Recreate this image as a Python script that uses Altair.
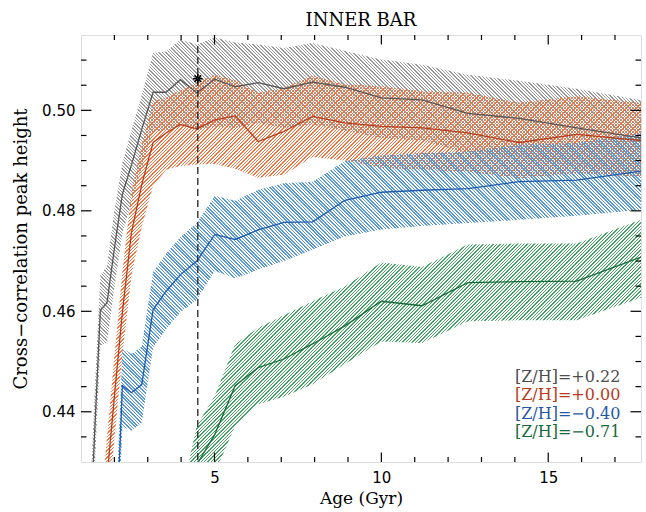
import altair as alt
import pandas as pd

# ---------------- data ----------------
AGES = [1.0, 1.12, 1.26, 1.41, 1.58, 1.78, 2.0, 2.24, 2.51, 2.82, 3.16, 3.55, 3.98,
        4.47, 5.01, 5.62, 6.31, 7.08, 7.94, 8.91, 10.0, 11.22, 12.59, 14.13, 15.85, 17.78]

GRAY_MID = [None, 0.392, 0.413, 0.436, 0.4602, 0.4617, 0.4725, 0.4833, 0.4891, 0.4962, 0.5036, 0.5036, 0.5061,
            0.5035, 0.5062, 0.5047, 0.5055, 0.5043, 0.5056, 0.5046, 0.5025, 0.5021, 0.4994, 0.4984, 0.4965, 0.4945]
GRAY_HI = [None, 0.400, 0.421, 0.444, 0.4672, 0.4690, 0.4800, 0.4895, 0.4960, 0.5030, 0.5114, 0.5117, 0.5141,
           0.5131, 0.5145, 0.5135, 0.5131, 0.5124, 0.5134, 0.5118, 0.5101, 0.5091, 0.5071, 0.5059, 0.5043, 0.5020]
GRAY_LO = [None, 0.384, 0.405, 0.428, 0.4532, 0.4537, 0.4647, 0.4755, 0.4815, 0.4885, 0.4958, 0.4960, 0.4970,
           0.4962, 0.4968, 0.4965, 0.4975, 0.4965, 0.4972, 0.4960, 0.4945, 0.4940, 0.4915, 0.4905, 0.4888, 0.4870]

ORANGE_MID = [None, None, None, 0.398, 0.412, 0.427, 0.443, 0.4598, 0.4756, 0.4852, 0.4936, 0.4955, 0.4972,
              0.4963, 0.4981, 0.4989, 0.4938, 0.4958, 0.4988, 0.4975, 0.4968, 0.4965, 0.4955, 0.4936, 0.4952, 0.4940]
ORANGE_HI = [None, None, None, 0.406, 0.420, 0.435, 0.451, 0.4678, 0.4836, 0.4932, 0.5018, 0.5025, 0.5040,
             0.5055, 0.5071, 0.5060, 0.5035, 0.5045, 0.5069, 0.5052, 0.5048, 0.5038, 0.5035, 0.5015, 0.5028, 0.5015]
ORANGE_LO = [None, None, None, 0.3895, 0.4035, 0.4185, 0.4345, 0.4513, 0.4671, 0.4768, 0.4850, 0.4882, 0.4889,
             0.4892, 0.4893, 0.4884, 0.4866, 0.4872, 0.4907, 0.4900, 0.4885, 0.4882, 0.4878, 0.4865, 0.4875, 0.4868]

BLUE_MID = [None, None, None, None, None, None, 0.405, 0.4452, 0.4438, 0.4454, 0.4603, 0.4640, 0.4673,
            0.4700, 0.4753, 0.4743, 0.4762, 0.4777, 0.4778, 0.4821, 0.4837, 0.4841, 0.4844, 0.4858, 0.4861, 0.4879]
BLUE_HI = [None, None, None, None, None, None, 0.413, 0.4527, 0.4515, 0.4530, 0.4678, 0.4715, 0.4748,
           0.4776, 0.4830, 0.4820, 0.4842, 0.4855, 0.4858, 0.4899, 0.4910, 0.4915, 0.4918, 0.4932, 0.4935, 0.4955]
BLUE_LO = [None, None, None, None, None, None, 0.397, 0.4370, 0.4362, 0.4378, 0.4528, 0.4565, 0.4598,
           0.4623, 0.4680, 0.4666, 0.4683, 0.4700, 0.4723, 0.4749, 0.4763, 0.4770, 0.4776, 0.4782, 0.4790, 0.4802]

GREEN_MID = [None, None, None, None, None, None, None, None, None, None, None, None, 0.415,
             0.4295, 0.4355, 0.4452, 0.4488, 0.4505, 0.4535, 0.4571, 0.4620, 0.4611, 0.4657, 0.4659, 0.4660, 0.4708]
GREEN_HI = [None, None, None, None, None, None, None, None, None, None, None, None, 0.4225,
            0.4372, 0.4432, 0.4535, 0.4567, 0.4592, 0.4620, 0.4650, 0.4697, 0.4688, 0.4733, 0.4735, 0.4735, 0.4782]
GREEN_LO = [None, None, None, None, None, None, None, None, None, None, None, None, 0.4075,
            0.4218, 0.4278, 0.4372, 0.4415, 0.4430, 0.4455, 0.4495, 0.4540, 0.4537, 0.4580, 0.4582, 0.4582, 0.4627]

TITLE = "INNER BAR"
LEGEND_LABELS = ["[Z/H]=+0.22", "[Z/H]=+0.00", "[Z/H]=\u22120.40", "[Z/H]=\u22120.71"]

MARK_AGE = [4.5]          # dashed vertical line
STAR_AGE = [4.5]
STAR_VAL = [0.5063]

X_DOMAIN = [1.0, 17.78]
Y_DOMAIN = [0.43, 0.515]
X_LABEL_TICKS = [5, 10, 15]
X_MINOR_TICKS = [2, 3, 4, 6, 7, 8, 9, 11, 12, 13, 14, 16, 17]
Y_LABEL_TICKS = [0.44, 0.46, 0.48, 0.50]
Y_MINOR_TICKS = [0.435, 0.445, 0.45, 0.455, 0.465, 0.47, 0.475, 0.485, 0.49, 0.495, 0.505, 0.51]

# ---------------- styling ----------------
PW, PH = 560, 427
SX = PW / (X_DOMAIN[1] - X_DOMAIN[0])
SY = PH / (Y_DOMAIN[1] - Y_DOMAIN[0])

SERIES = [
    ("gray", GRAY_MID, GRAY_HI, GRAY_LO, "#999999", "#555555", "back", "#4d4d4d"),
    ("orange", ORANGE_MID, ORANGE_HI, ORANGE_LO, "#f07440", "#b33d1c", "fwd", "#b8391b"),
    ("blue", BLUE_MID, BLUE_HI, BLUE_LO, "#5898d4", "#1d5ba9", "back", "#1f57a6"),
    ("green", GREEN_MID, GREEN_HI, GREEN_LO, "#45a463", "#18693a", "fwd", "#17683a"),
]

xs = alt.Scale(domain=X_DOMAIN, nice=False, zero=False)
ys = alt.Scale(domain=Y_DOMAIN, nice=False, zero=False)

TRANSPARENT = "rgba(255,255,255,0)"


def hatch(color, direction, W, H, spacing=3.4, frac=0.42):
    total = W + H
    k = total / (W * W + H * H)
    a, b = W * k, H * k
    if direction == "fwd":
        x1, y1, x2, y2 = 0, 0, a, b
    else:
        x1, y1, x2, y2 = 0, 1, a, 1 - b
    p = spacing / total
    n = int(total / spacing) + 1
    stops = []
    for i in range(n):
        o = i * p
        if o > 1:
            break
        m = min(o + frac * p, 1.0)
        e = min(o + p, 1.0)
        stops += [
            {"offset": round(o, 6), "color": color},
            {"offset": round(m, 6), "color": color},
            {"offset": round(m, 6), "color": TRANSPARENT},
            {"offset": round(e, 6), "color": TRANSPARENT},
        ]
    return {"gradient": "linear", "x1": x1, "y1": y1, "x2": x2, "y2": y2, "stops": stops}


X_AXIS = alt.Axis(values=X_LABEL_TICKS, format="d", ticks=False, domain=False, grid=False,
                  labelFont="DejaVu Sans", labelFontSize=15, labelColor="black",
                  labelPadding=8, titleFont="DejaVu Serif", titleFontSize=17,
                  titleFontWeight="normal", titleColor="black", titlePadding=5)
Y_AXIS = alt.Axis(values=Y_LABEL_TICKS, format=".2f", ticks=False, domain=False, grid=False,
                  labelFont="DejaVu Sans", labelFontSize=15, labelColor="black",
                  labelPadding=6, titleFont="DejaVu Serif", titleFontSize=18,
                  titleFontWeight="normal", titleColor="black", titlePadding=11)
X_TITLE = "Age (Gyr)"
Y_TITLE = "Cross\u2212correlation peak height"


def xenc(field):
    return alt.X(field, type="quantitative", scale=xs, title=X_TITLE, axis=X_AXIS)


def yenc(field):
    return alt.Y(field, type="quantitative", scale=ys, title=Y_TITLE, axis=Y_AXIS)


# axes (labels only) carried by an invisible first layer
axis_df = pd.DataFrame({"age": X_DOMAIN, "val": Y_DOMAIN})
axes_layer = alt.Chart(axis_df).mark_point(opacity=0, size=1).encode(x=xenc("age"), y=yenc("val"))

band_layers = []
line_layers = []
for name, mid, hi, lo, hcol, lcol, direc, _ in SERIES:
    rows = [(a, m, h, l) for a, m, h, l in zip(AGES, mid, hi, lo) if m is not None]
    df = pd.DataFrame(rows, columns=["age", "mid", "hi", "lo"])
    W = (df["age"].max() - df["age"].min()) * SX
    H = (df["hi"].max() - df["lo"].min()) * SY
    band = alt.Chart(df).mark_area(
        fill=hatch(hcol, direc, W, H), opacity=1, clip=True, interpolate="linear"
    ).encode(x=xenc("age"), y=yenc("hi"), y2="lo:Q")
    band_layers.append(band)
    line = alt.Chart(df).mark_line(color=lcol, strokeWidth=1.3, clip=True).encode(
        x=xenc("age"), y=yenc("mid"))
    line_layers.append(line)

# dashed vertical line and star
vline = alt.Chart(pd.DataFrame({"age": MARK_AGE})).mark_rule(
    color="#222222", strokeWidth=1.3, strokeDash=[7, 4]
).encode(x=xenc("age"))

star = alt.Chart(pd.DataFrame({"age": STAR_AGE, "val": STAR_VAL})).mark_point(
    shape="M-1,0L1,0M0,-1L0,1M-0.7,-0.7L0.7,0.7M-0.7,0.7L0.7,-0.7",
    filled=False, stroke="black", strokeWidth=1.5, size=90, opacity=1
).encode(x=xenc("age"), y=yenc("val"))

# inward ticks on all four sides
MAJ, MIN = 9.5, 5
tick_layers = []
for vals, L in ((X_LABEL_TICKS, MAJ), (X_MINOR_TICKS, MIN)):
    d = pd.DataFrame({"age": vals})
    tick_layers.append(alt.Chart(d).mark_rule(color="black", strokeWidth=1.2).encode(
        x=xenc("age"), y=alt.value(PH), y2=alt.value(PH - L)))
    tick_layers.append(alt.Chart(d).mark_rule(color="black", strokeWidth=1.2).encode(
        x=xenc("age"), y=alt.value(0), y2=alt.value(L)))
for vals, L in ((Y_LABEL_TICKS, MAJ + 1), (Y_MINOR_TICKS, MIN + 0.5)):
    d = pd.DataFrame({"val": vals})
    tick_layers.append(alt.Chart(d).mark_rule(color="black", strokeWidth=1.2).encode(
        y=yenc("val"), x=alt.value(0), x2=alt.value(L)))
    tick_layers.append(alt.Chart(d).mark_rule(color="black", strokeWidth=1.2).encode(
        y=yenc("val"), x=alt.value(PW), x2=alt.value(PW - L)))

# legend (coloured text)
legend_layers = []
for i, (lab, s) in enumerate(zip(LEGEND_LABELS, SERIES)):
    legend_layers.append(
        alt.Chart(pd.DataFrame({"k": [0]})).mark_text(
            text=lab, font="DejaVu Serif", fontSize=16, color=s[7], align="left", baseline="middle"
        ).encode(x=alt.value(434), y=alt.value(342 + i * 18.4))
    )

# chart title as a text mark just above the frame
title_layer = alt.Chart(pd.DataFrame({"k": [0]})).mark_text(
    text=TITLE, font="DejaVu Serif", fontSize=18, color="black", align="center",
    baseline="alphabetic"
).encode(x=alt.value(PW / 2), y=alt.value(-9))

chart = alt.layer(
    axes_layer, *band_layers, *line_layers, vline, star, *tick_layers, *legend_layers, title_layer
).properties(
    width=PW, height=PH,
    padding={"left": 81, "top": 35, "right": 5, "bottom": 50},
    autosize="none",
).configure_view(stroke="black", strokeWidth=1.8).configure(background="white")

chart.save("out.html", embed_options={"renderer": "svg", "actions": False})
